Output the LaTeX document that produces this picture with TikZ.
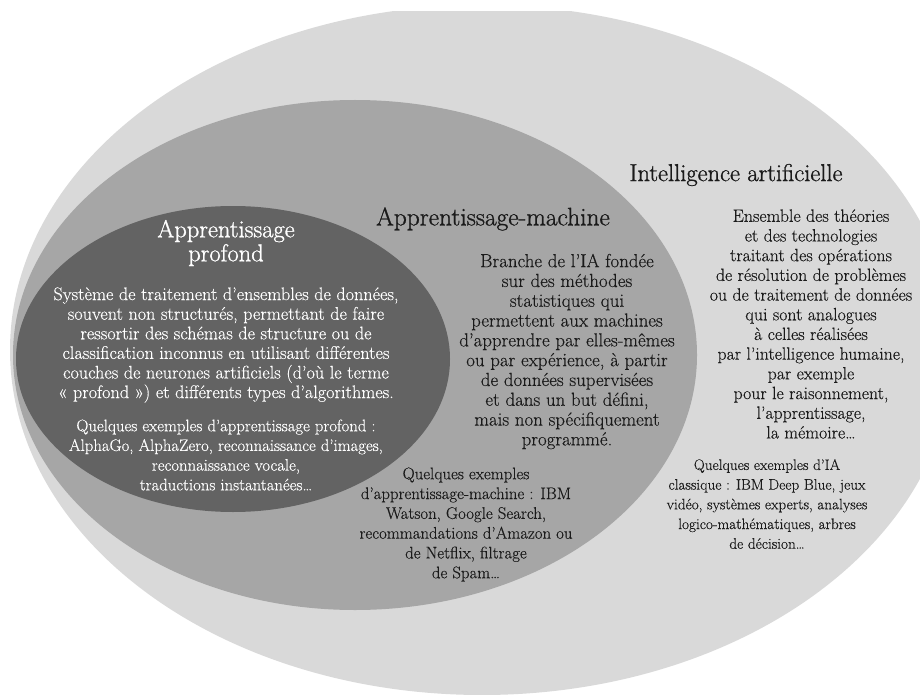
\documentclass[tikz,border=0pt]{standalone}
\usepackage{fontspec}
\setmainfont{Latin Modern Roman}[FakeBold=0.3]
\newfontfamily\titrefont{Latin Modern Roman}[FakeBold=1]

\definecolor{iagris}{HTML}{D9D9D9}
\definecolor{mlgris}{HTML}{A6A6A6}
\definecolor{dlgris}{HTML}{636363}
\definecolor{encre}{HTML}{1A1A1A}

\tikzset{
  titre/.style={align=center, inner sep=0pt, font=\titrefont\fontsize{24.5}{24}\selectfont},
  texte/.style={align=center, inner sep=0pt, font=\fontsize{17.8}{19.7}\selectfont},
  exemple/.style={align=center, inner sep=0pt, font=\fontsize{15.2}{19.7}\selectfont}
}

\begin{document}
\begin{tikzpicture}[x=1pt, y=-1pt]
        \useasboundingbox (0,0) rectangle (920,695);

        \begin{scope}
          \clip (0,12) rectangle (920,695);
          \fill[iagris] (482,350) ellipse (472 and 345);
        \end{scope}
        \fill[mlgris] (355,355) ellipse (342 and 255);
        \fill[dlgris] (233,359) ellipse (217 and 153);

        % Intelligence artificielle
        \node[titre, text=encre] (ia) at (736,175) {Intelligence artificielle};
        \node[texte, text=encre] (iatexte) at (811,324) {Ensemble des théories\\
          et des technologies\\
          traitant des opérations\\
          de résolution de problèmes\\
          ou de traitement de données\\
          qui sont analogues\\
          à celles réalisées\\
          par l’intelligence humaine,\\
          par exemple\\
          pour le raisonnement,\\
          l’apprentissage,\\
          la mémoire…};
        \node[exemple, text=encre] (iaex) at (767,504) {Quelques exemples d’IA\\
          classique~: IBM Deep Blue, jeux\\
          vidéo, systèmes experts, analyses\\
          logico-mathématiques, arbres\\
          de décision…};

        % Apprentissage-machine
        \node[titre, text=encre, font=\titrefont\fontsize{25.4}{27}\selectfont] (ml) at (493,219) {Apprentissage-machine};
        \node[texte, text=encre, font=\fontsize{18.9}{19.8}\selectfont] (mltexte) at (567,351.5) {Branche de l’IA fondée\\
          sur des méthodes\\
          statistiques qui\\
          permettent aux machines\\
          d’apprendre par elles-mêmes\\
          ou par expérience, à partir\\
          de données supervisées\\
          et dans un but défini,\\
          mais non spécifiquement\\
          programmé.};
        \node[exemple, text=encre, font=\fontsize{16.8}{19.8}\selectfont] (mlex) at (466,524.5) {Quelques exemples\\
          d’apprentissage-machine~: IBM\\
          Watson, Google Search,\\
          recommandations d’Amazon ou\\
          de Netflix, filtrage\\
          de Spam…};

        % Apprentissage profond
        \node[titre, text=white] (dl) at (226,243) {Apprentissage\\profond};
        \node[texte, text=white, font=\fontsize{18.2}{19.6}\selectfont] (dltexte) at (226,345) {Système de traitement d’ensembles de données,\\
          souvent non structurés, permettant de faire\\
          ressortir des schémas de structure ou de\\
          classification inconnus en utilisant différentes\\
          couches de neurones artificiels (d’où le terme\\
          «~profond~») et différents types d’algorithmes.};
        \node[exemple, text=white, font=\fontsize{16.7}{19.7}\selectfont] (dlex) at (226,455) {Quelques exemples d’apprentissage profond~:\\
          AlphaGo, AlphaZero, reconnaissance d’images,\\
          reconnaissance vocale,\\
          traductions instantanées…};
\end{tikzpicture}
\end{document}
